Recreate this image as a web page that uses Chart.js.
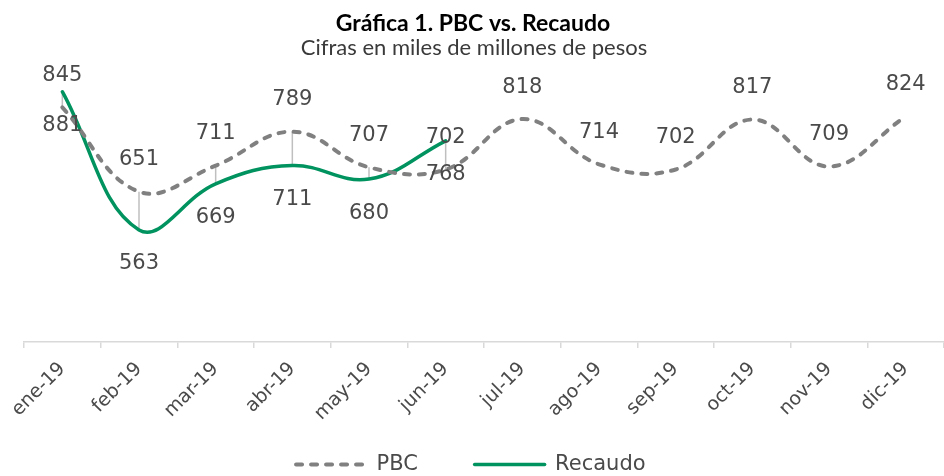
<!DOCTYPE html>
<html>
<head>
<meta charset="utf-8">
<script src="https://cdn.jsdelivr.net/npm/chart.js@4/dist/chart.umd.min.js"></script>
<style>
  html, body { margin: 0; padding: 0; background: #fff; }
  #wrap { width: 944px; height: 476px; }
</style>
</head>
<body>
<div id="wrap"><canvas id="chart" width="944" height="476"></canvas></div>
<script>
// Data
const months = ['ene-19', 'feb-19', 'mar-19', 'abr-19', 'may-19', 'jun-19',
  'jul-19', 'ago-19', 'sep-19', 'oct-19', 'nov-19', 'dic-19'];
const pbc = [845, 651, 711, 789, 707, 702, 818, 714, 702, 817, 709, 824];
const recaudo = [881, 563, 669, 711, 680, 768];

const titleText = 'Gráfica 1. PBC vs. Recaudo';
const subtitleText = 'Cifras en miles de millones de pesos';

const labelFont = '"DejaVu Sans", sans-serif';
const textColor = '#4a4a4a';

// title + subtitle drawn over the plot area (like the original)
const titlePlugin = {
  id: 'titles',
  afterDraw(chart) {
    const ctx = chart.ctx;
    ctx.save();
    ctx.textAlign = 'center';
    ctx.textBaseline = 'alphabetic';
    ctx.fillStyle = '#000';
    ctx.font = 'bold 23px Lato, sans-serif';
    ctx.fillText(titleText, 473, 31);
    ctx.fillStyle = '#3a3a3a';
    ctx.font = '22px Lato, sans-serif';
    ctx.fillText(subtitleText, 474, 55);
    ctx.restore();
  }
};

// gray drop lines between the two series
const dropLines = {
  id: 'dropLines',
  beforeDatasetsDraw(chart) {
    const a = chart.getDatasetMeta(0).data;
    const b = chart.getDatasetMeta(1).data;
    const ctx = chart.ctx;
    ctx.save();
    ctx.strokeStyle = '#bfbfbf';
    ctx.lineWidth = 1.5;
    for (let i = 0; i < b.length; i++) {
      ctx.beginPath();
      ctx.moveTo(a[i].x, a[i].y);
      ctx.lineTo(b[i].x, b[i].y);
      ctx.stroke();
    }
    ctx.restore();
  }
};

// value labels: PBC above, Recaudo below
const valueLabels = {
  id: 'valueLabels',
  afterDatasetsDraw(chart) {
    const ctx = chart.ctx;
    ctx.save();
    ctx.font = '21px ' + labelFont;
    ctx.fillStyle = textColor;
    ctx.textAlign = 'center';
    ctx.textBaseline = 'middle';
    chart.data.datasets.forEach((ds, di) => {
      const off = di === 0 ? -32 : 34;
      chart.getDatasetMeta(di).data.forEach((pt, i) => {
        ctx.fillText(ds.data[i], pt.x, pt.y + off);
      });
    });
    ctx.restore();
  }
};

new Chart(document.getElementById('chart'), {
  type: 'line',
  data: {
    labels: months,
    datasets: [{
      label: 'PBC',
      data: pbc,
      borderColor: '#808080',
      backgroundColor: '#808080',
      borderWidth: 4,
      borderDash: [6, 9],
      borderCapStyle: 'round',
      tension: 0.4,
      pointRadius: 0,
      fill: false,
      clip: false
    }, {
      label: 'Recaudo',
      data: recaudo,
      borderColor: '#00925f',
      backgroundColor: '#00925f',
      borderWidth: 3.5,
      borderCapStyle: 'round',
      tension: 0.4,
      pointRadius: 0,
      fill: false,
      clip: false
    }]
  },
  options: {
    responsive: false,
    animation: false,
    devicePixelRatio: 1,
    layout: { padding: { top: 40, left: 24, right: -7, bottom: -9 } },
    plugins: {
      title: { display: false },
      tooltip: { enabled: false },
      legend: {
        position: 'bottom',
        labels: {
          usePointStyle: true,
          pointStyle: 'line',
          pointStyleWidth: 70,
          padding: 30,
          color: textColor,
          font: { family: labelFont, size: 21 },
          generateLabels(chart) {
            const items = Chart.defaults.plugins.legend.labels.generateLabels(chart);
            items.forEach((it) => {
              const ds = chart.data.datasets[it.datasetIndex];
              it.lineDash = ds.borderDash || [];
              it.lineWidth = ds.borderWidth;
              it.lineCap = 'round';
              it.strokeStyle = ds.borderColor;
              it.pointStyle = 'line';
            });
            // spacing: wider gap between entries, legend centred on the page
            items[0].text = items[0].text + '    ';
            items[1].text = items[1].text + '     ';
            return items;
          }
        }
      }
    },
    scales: {
      x: {
        offset: true,
        grid: {
          offset: true,
          drawOnChartArea: false,
          drawTicks: true,
          tickLength: 6,
          color: '#d9d9d9',
          lineWidth: 1.5
        },
        border: { display: true, color: '#d9d9d9', width: 1.5 },
        ticks: {
          minRotation: 45,
          maxRotation: 45,
          padding: 10,
          color: textColor,
          font: { family: labelFont, size: 19 }
        },
        afterFit(scale) {
          scale.paddingLeft = 0;
          scale.paddingRight = 0;
          scale.height = 82;
        }
      },
      y: {
        display: false,
        min: 305,
        max: 1000
      }
    }
  },
  plugins: [dropLines, valueLabels, titlePlugin]
});
</script>
</body>
</html>
